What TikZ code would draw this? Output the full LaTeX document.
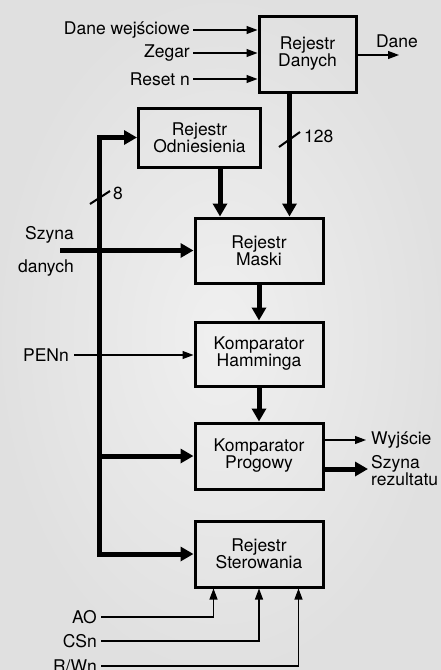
\documentclass[tikz,border=0pt]{standalone}
\usepackage{fontspec}
\setmainfont{TeX Gyre Heros}
\usetikzlibrary{arrows.meta}
\begin{document}
\begin{tikzpicture}[x=1pt,y=-1pt,
  every node/.style={font=\fontsize{17.5}{17}\selectfont, inner sep=0pt},
  blk/.style={draw=black, line width=3pt, align=center, minimum width=128pt},
  bus/.style={line width=5pt, -{Triangle[length=13pt,width=14pt]}},
  sig/.style={line width=1.1pt, -{Triangle[length=11pt,width=8pt]}},
  line/.style={line width=1.1pt},
  lbl/.style={anchor=east},
  slash/.style={line width=2pt}]
\useasboundingbox (0,0) rectangle (441,670);
\shade[inner color=gray!12, outer color=gray!24] (0,0) rectangle (441,670);

% blocks
\node[blk, minimum width=97pt, minimum height=76pt] (RD) at (307.5,54) {Rejestr\\Danych};
\node[blk, minimum width=122pt, minimum height=59pt] (RO) at (199.5,137.5) {Rejestr\\Odniesienia};
\node[blk, minimum height=65pt] (RM) at (259,250.5) {Rejestr\\Maski};
\node[blk, minimum height=64pt] (KH) at (259,354) {Komparator\\Hamminga};
\node[blk, minimum height=66pt] (KP) at (259,456) {Komparator\\Progowy};
\node[blk, minimum height=66pt] (RS) at (259,554) {Rejestr\\Sterowania};

% inputs to Rejestr Danych
\node[lbl] (dw) at (190,30) {Dane wejściowe};
\node[lbl] (zg) at (190,53) {Zegar};
\node[lbl] (rn) at (190,79) {Reset n};
\draw[sig] ([xshift=3pt]dw.east) -- (dw.east -| RD.west);
\draw[sig] ([xshift=3pt]zg.east) -- (zg.east -| RD.west);
\draw[sig] ([xshift=3pt]rn.east) -- (rn.east -| RD.west);

% output Dane
\coordinate (dout) at (399,55);
\draw[sig] (RD.east |- dout) -- (dout);
\node (dane) at (397,41) {Dane};

% vertical thick arrows
\coordinate (a128) at ([xshift=-18pt]RD.south);
\draw[bus] (a128) -- (a128 |- RM.north);
\draw[slash] (279,147) -- (300,132);
\node[anchor=west] (n128) at (304,136) {128};
\coordinate (aro) at ([xshift=20.5pt]RO.south);
\draw[bus] (aro) -- (aro |- RM.north);
\draw[bus] (RM.south) -- (KH.north);
\draw[bus] (KH.south) -- (KP.north);

% left bus
\coordinate (bt) at (99,137.5);
\coordinate (bb) at (99,555);
\draw[bus] (bb) |- (RO.west);
\draw[bus] (bt) |- (RS.west);
\draw[bus] (bt |- KP.west) -- (KP.west);
\draw[slash] (90,204) -- (110,191);
\node[anchor=west] (n8) at (113,193) {8};

% Szyna danych
\node[lbl] (sz1) at (74,235) {Szyna};
\node[lbl] (sz2) at (74,268) {danych};
\coordinate (szs) at (60,250.5);
\draw[bus] (szs) -- (RM.west);

% PENn
\node[lbl] (pen) at (69,355) {PENn};
\draw[sig] ([xshift=5pt]pen.east) -- (pen.east -| KH.west);

% outputs of Komparator Progowy
\coordinate (wy) at (366,440);
\draw[sig] (KP.east |- wy) -- (wy);
\node[anchor=west] (wyl) at (371,440) {Wyjście};
\coordinate (sr) at (368,469);
\draw[bus] (KP.east |- sr) -- (sr);
\node[anchor=west, align=left] (srl) at (371,471) {Szyna\\rezultatu};

% control inputs
\node[lbl] (ao) at (97,617) {AO};
\node[lbl] (cs) at (97,641) {CSn};
\node[lbl] (rw) at (97,666) {R/Wn};
\draw[sig] ([xshift=4pt]ao.east) -| ([xshift=20pt]RS.south west);
\draw[sig] ([xshift=4pt]cs.east) -| (RS.south);
\draw[sig] ([xshift=4pt]rw.east) -| ([xshift=105pt]RS.south west);
\end{tikzpicture}
\end{document}
